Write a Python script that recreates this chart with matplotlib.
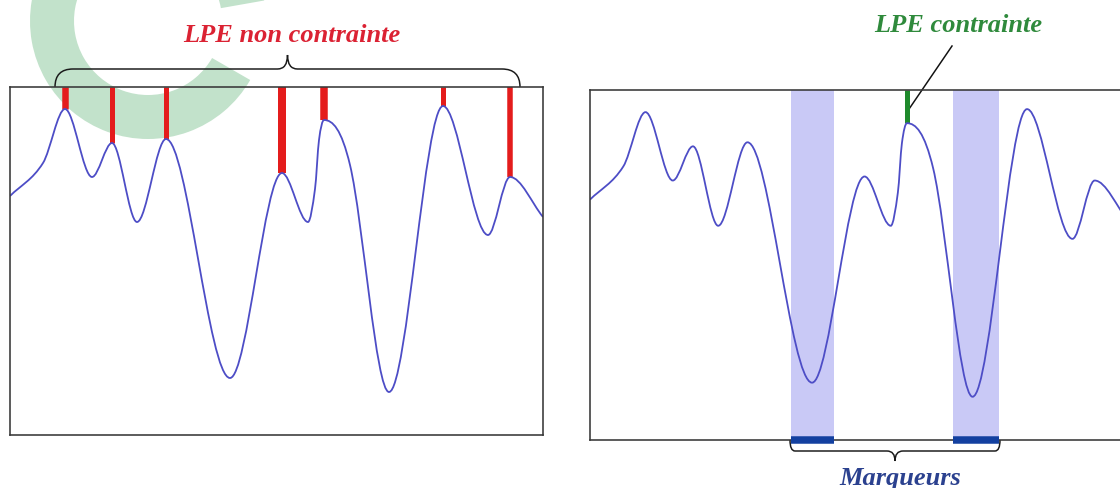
import matplotlib
matplotlib.use('Agg')
import matplotlib.pyplot as plt
from matplotlib.path import Path
from matplotlib.patches import PathPatch, Wedge

signal_x = [0, 33, 55, 82, 102, 127, 156, 220, 272, 298, 305, 309, 314, 340, 379, 433, 478, 500, 533]
signal_y = [239, 272, 326, 258, 292, 213, 296, 57, 262, 213, 246, 295, 315, 270, 43, 329, 200, 258, 218]

# Unconstrained watershed lines (left panel), one on each peak
lpe_free_x = [55, 102, 156, 272, 314, 433, 500]
lpe_free_y = [326, 292, 296, 262, 315, 329, 258]
lpe_free_w = [6.5, 5, 5, 8, 7.5, 5, 5.5]   # px

# Constrained watershed line (right panel)
lpe_marked_x = [314]
lpe_marked_y = [315]

# Markers (right panel)
marker_start = [199, 360]
marker_end = [242, 405]

label_free = 'LPE non contrainte'
label_marked = 'LPE contrainte'
label_markers = 'Marqueurs'

W, H = 1120, 489
LINE = '#4d4dc6'
RED = '#e41c1c'
GREEN = '#1f8a2c'
BAND = '#c9c9f6'
MARK = '#1340a0'
PX = 72.0 / 100   # one pixel in points


def Smooth_Path(xs, ys):
    # cubic pieces through the read points, flat tangent on each peak / valley
    n = len(xs)
    slopes = []
    for i in range(n):
        if i == 0:
            s = (ys[1] - ys[0]) / (xs[1] - xs[0])
        elif i == n - 1:
            s = (ys[-1] - ys[-2]) / (xs[-1] - xs[-2])
        elif (ys[i] - ys[i - 1]) * (ys[i + 1] - ys[i]) <= 0:
            s = 0.0
        else:
            s = (ys[i + 1] - ys[i - 1]) / (xs[i + 1] - xs[i - 1])
        slopes.append(s)
    verts = [(xs[0], ys[0])]
    codes = [Path.MOVETO]
    for i in range(n - 1):
        h = (xs[i + 1] - xs[i]) / 3.0
        verts += [(xs[i] + h, ys[i] + slopes[i] * h),
                  (xs[i + 1] - h, ys[i + 1] - slopes[i + 1] * h),
                  (xs[i + 1], ys[i + 1])]
        codes += [Path.CURVE4] * 3
    return Path(verts, codes)


def Brace_Path(x0, x1, y_end, y_bar, y_tip, r_end, r_mid):
    xc = (x0 + x1) / 2.0
    verts = [(x0, y_end), (x0, y_bar), (x0 + r_end, y_bar),
             (xc - r_mid, y_bar),
             (xc, y_bar), (xc, y_tip),
             (xc, y_bar), (xc + r_mid, y_bar),
             (x1 - r_end, y_bar),
             (x1, y_bar), (x1, y_end)]
    codes = [Path.MOVETO, Path.CURVE3, Path.CURVE3,
             Path.LINETO,
             Path.CURVE3, Path.CURVE3,
             Path.CURVE3, Path.CURVE3,
             Path.LINETO,
             Path.CURVE3, Path.CURVE3]
    return Path(verts, codes)


def Setup_Panel(ax):
    ax.set_xlim(0, 533)
    ax.set_ylim(0, 348)
    ax.set_facecolor('none')
    ax.set_xticks([])
    ax.set_yticks([])
    for s in ['top', 'bottom', 'left', 'right']:
        ax.spines[s].set_color('#383838')
        ax.spines[s].set_linewidth(1.6 * PX)
        ax.spines[s].set_zorder(5)


fig = plt.figure(figsize=(W / 100, H / 100), dpi=100, facecolor='white')

# Background layer in pixel coordinates (watermark, braces, labels)
bg = fig.add_axes([0, 0, 1, 1])
bg.set_xlim(0, W)
bg.set_ylim(H, 0)
bg.axis('off')

# Watermark
bg.add_patch(Wedge((148, 22), 118, 30, 350, width=44, facecolor='#c2e2cb', edgecolor='none'))

# Left panel : unconstrained watershed
ax1 = fig.add_axes([10 / W, (H - 436) / H, 533 / W, 348 / H])
Setup_Panel(ax1)
ax1.add_patch(PathPatch(Smooth_Path(signal_x, signal_y), fill=False, edgecolor=LINE, linewidth=1.8 * PX, zorder=3))
ax1.vlines(lpe_free_x, lpe_free_y, 348, colors=RED, linewidths=[w * PX for w in lpe_free_w], zorder=2)

# Right panel : watershed with markers
ax2 = fig.add_axes([590 / W, (H - 441) / H, 538 / W, 350 / H])
Setup_Panel(ax2)
for s, e in zip(marker_start, marker_end):
    ax2.axvspan(s, e, color=BAND, lw=0, zorder=1)
ax2.add_patch(PathPatch(Smooth_Path(signal_x, signal_y), fill=False, edgecolor=LINE, linewidth=1.8 * PX, zorder=3))
ax2.vlines(lpe_marked_x, lpe_marked_y, 348, colors=GREEN, linewidths=5 * PX, zorder=2)
ax2.hlines([0] * len(marker_start), marker_start, marker_end, colors=MARK, linewidths=7.5 * PX,
           zorder=6, clip_on=False)

# Braces
bg.add_patch(PathPatch(Brace_Path(55, 520, 88, 70, 56, 18, 10), fill=False, edgecolor='#1a1a1a', linewidth=1.5 * PX))
bg.add_patch(PathPatch(Brace_Path(790, 1000, 441, 452, 462, 5, 8), fill=False, edgecolor='#1a1a1a', linewidth=1.5 * PX))

# Pointer of the constrained line
bg.plot([952, 907], [47, 113], color='#111111', linewidth=1.5 * PX)

# Labels
txt = dict(family='Liberation Serif', fontweight='bold', fontstyle='italic', fontsize=19, ha='center', va='baseline')
bg.text(292, 42, label_free, color='#db2233', **txt)
bg.text(958, 32, label_marked, color='#2f8a3c', **txt)
bg.text(900, 485, label_markers, color='#2b418f', **txt)

fig.savefig('out.png', dpi=100)
